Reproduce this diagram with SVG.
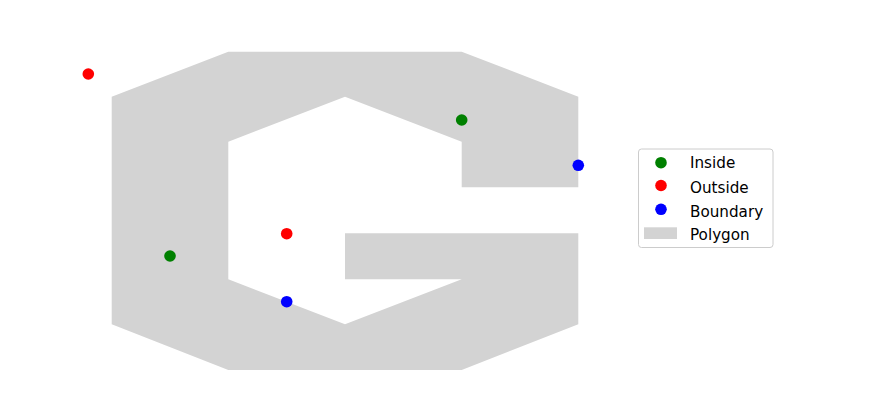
<svg xmlns="http://www.w3.org/2000/svg" width="890" height="416" viewBox="0 0 890 416">
<style>
.lbl{font-family:"DejaVu Sans",sans-serif;font-size:15.2px;fill:#000}
.in{fill:#008000}.out{fill:#ff0000}.bd{fill:#0000ff}
</style>
<rect width="890" height="416" fill="#fff"/>
<g id="polygon">
<path fill="#d3d3d3" d="M111.7,96.7 L228.3,51.7 L461.7,51.7 L578.3,96.7 L578.3,187.3 L461.7,187.3 L461.7,141.7 L345,96.7 L228.3,141.7 L228.3,279.3 L345,324.3 L461.7,279.3 L345,279.3 L345,233.3 L578.3,233.3 L578.3,324.3 L461.7,370 L228.3,370 L111.7,324.3 Z"/>
</g>
<g id="points">
<circle class="in" cx="461.7" cy="120" r="5.8"/>
<circle class="in" cx="170" cy="256" r="5.8"/>
<circle class="out" cx="88.3" cy="74" r="5.8"/>
<circle class="out" cx="286.7" cy="233.7" r="5.8"/>
<circle class="bd" cx="578.3" cy="165.3" r="5.8"/>
<circle class="bd" cx="286.7" cy="301.7" r="5.8"/>
</g>
<g id="legend">
<rect x="638.5" y="149" width="134.5" height="98.5" rx="3" fill="#fff" fill-opacity="0.8" stroke="#cccccc" stroke-width="1"/>
<circle class="in" cx="661" cy="162.7" r="5.8"/>
<circle class="out" cx="661" cy="185.5" r="5.8"/>
<circle class="bd" cx="661" cy="209.3" r="5.8"/>
<rect x="644" y="227.3" width="33" height="11.7" fill="#d3d3d3"/>
<text class="lbl" x="690" y="168.3">Inside</text>
<text class="lbl" x="690" y="192.5">Outside</text>
<text class="lbl" x="690" y="216.5">Boundary</text>
<text class="lbl" x="690" y="240">Polygon</text>
</g>
</svg>
